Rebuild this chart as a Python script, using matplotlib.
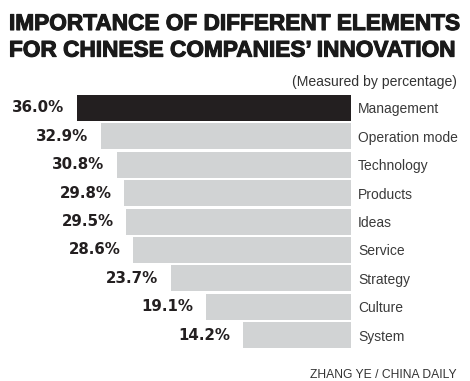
import matplotlib
matplotlib.use('Agg')
import matplotlib.pyplot as plt
import matplotlib.patheffects as pe
from matplotlib import font_manager

# ===== data =====
categories = ['Management', 'Operation mode', 'Technology', 'Products', 'Ideas',
              'Service', 'Strategy', 'Culture', 'System']
values = [36.0, 32.9, 30.8, 29.8, 29.5, 28.6, 23.7, 19.1, 14.2]
value_labels = ['36.0%', '32.9%', '30.8%', '29.8%', '29.5%', '28.6%', '23.7%', '19.1%', '14.2%']

title = 'IMPORTANCE OF DIFFERENT ELEMENTS\nFOR CHINESE COMPANIES\u2019 INNOVATION'
subtitle = '(Measured by percentage)'
credit = 'ZHANG YE / CHINA DAILY'

installed = {f.name for f in font_manager.fontManager.ttflist}
narrow = 'Liberation Sans Narrow' if 'Liberation Sans Narrow' in installed else 'Liberation Sans'

W, H = 470, 381
fig = plt.figure(figsize=(W / 100, H / 100), dpi=100)
fig.patch.set_facecolor('white')

# axes: x=0 at pixel 351 (right edge of bars), 7.61 px per percentage point
px_per_unit = 274 / 36.0
right_px = 351
top_px, pitch = 93.8, 28.4
n = len(values)
ax = fig.add_axes([0, 1 - (top_px + n * pitch) / H, right_px / W, n * pitch / H])
ax.set_xlim(right_px / px_per_unit, 0)   # inverted: bars grow to the left
ax.set_ylim(n - 0.5, -0.5)
ax.axis('off')

colors = ['#231f20'] + ['#d1d3d4'] * (n - 1)
ypos = list(range(n))
ax.barh(ypos, values, height=0.91, color=colors, edgecolor='none')

for y, v, lab, cat in zip(ypos, values, value_labels, categories):
    ax.annotate(lab, (v, y), xytext=(-9, 0), textcoords='offset points',
                ha='right', va='center', fontsize=10.8, fontweight='bold',
                family='DejaVu Sans', color='#231f20')
    ax.annotate(cat, (0, y), xytext=(5.2, 0), textcoords='offset points',
                ha='left', va='center_baseline', fontsize=10,
                family='Liberation Sans', color='#3a3a3a', annotation_clip=False)

fig.text(9 / W, 1 - 12 / H, title, ha='left', va='top', fontsize=16.3,
         fontweight='bold', family='Liberation Sans', color='#1a1a1a',
         linespacing=1.2,
         path_effects=[pe.withStroke(linewidth=0.8, foreground='#1a1a1a')])
fig.text(457 / W, 1 - 82 / H, subtitle, ha='right', va='center', fontsize=10.1,
         family='Liberation Sans', color='#333333')
fig.text(457 / W, 1 - 378 / H, credit, ha='right', va='baseline', fontsize=8.7,
         family=narrow, color='#333333')

fig.savefig('out.png', dpi=100, facecolor='white')
